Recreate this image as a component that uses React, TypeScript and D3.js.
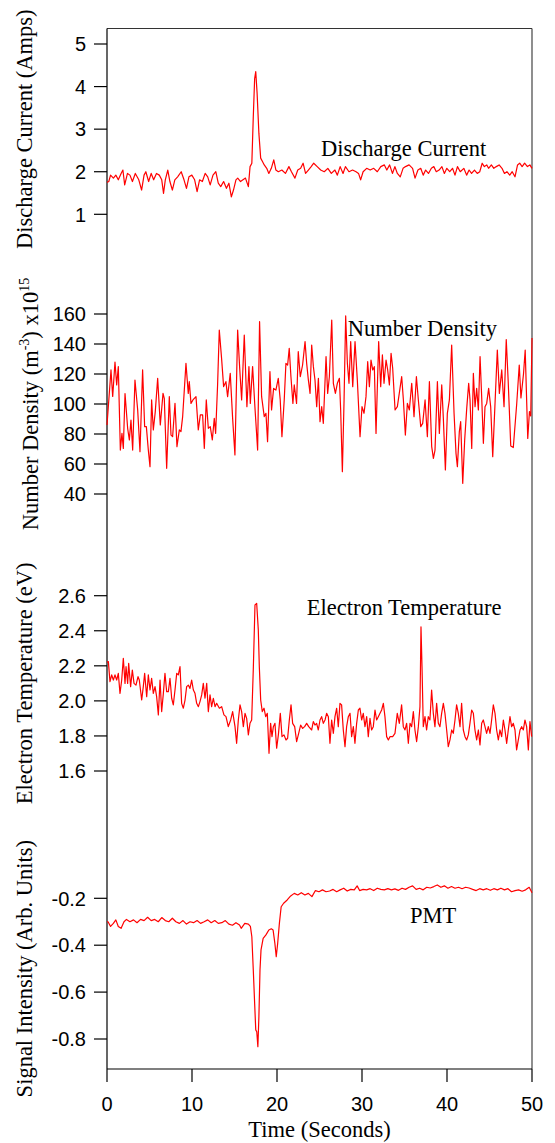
import React from 'react';
import * as d3 from 'd3';

// ---------- tick values ----------
const timeTicks = [0, 10, 20, 30, 40, 50];
const currentTicks = [1, 2, 3, 4, 5];
const densityTicks = [40, 60, 80, 100, 120, 140, 160];
const temperatureTicks = [1.6, 1.8, 2.0, 2.2, 2.4, 2.6];
const pmtTicks = [-0.8, -0.6, -0.4, -0.2];

// ---------- series: [time (s), value] ----------
const dischargeCurrent: [number, number][] = [
  [0, 1.75], [0.21, 1.77], [0.42, 1.92], [0.75, 1.85], [1.04, 1.92], [1.33, 1.81], [1.66, 1.96], [1.87, 2.04],
  [2.08, 1.69], [2.41, 1.96], [2.7, 1.92], [2.99, 1.77], [3.33, 1.96], [3.74, 1.81], [4.07, 1.57], [4.36, 1.92],
  [4.57, 2.0], [4.9, 1.77], [5.2, 1.96], [5.49, 1.81], [5.82, 1.96], [6.15, 1.92], [6.44, 1.81], [6.65, 1.49],
  [6.86, 1.81], [7.15, 2.04], [7.4, 1.77], [7.69, 1.57], [7.98, 1.81], [8.31, 1.88], [8.73, 2.0], [9.06, 1.81],
  [9.35, 1.61], [9.64, 1.88], [9.98, 1.92], [10.31, 1.81], [10.6, 1.53], [10.89, 1.81], [11.22, 1.77], [11.55, 1.96],
  [11.85, 1.88], [12.14, 1.69], [12.47, 1.92], [12.8, 2.0], [13.09, 1.73], [13.38, 1.65], [13.72, 1.77], [14.05, 1.61],
  [14.34, 1.73], [14.63, 1.41], [14.88, 1.57], [15.17, 1.81], [15.38, 1.85], [15.71, 1.77], [16.0, 1.81], [16.29, 1.85],
  [16.63, 1.65], [16.83, 2.12], [17.04, 2.2], [17.21, 3.29], [17.37, 4.19], [17.5, 4.35], [17.66, 3.84], [17.87, 2.9],
  [18.08, 2.32], [18.29, 2.24], [18.5, 2.16], [18.79, 2.08], [19.04, 1.96], [19.33, 2.08], [19.62, 2.28], [19.87, 2.04],
  [20.16, 2.0], [20.57, 2.04], [20.99, 1.96], [21.4, 2.12], [21.7, 2.0], [22.11, 1.85], [22.44, 2.04], [22.78, 2.08],
  [23.07, 2.2], [23.36, 1.96], [23.69, 2.04], [24.02, 2.12], [24.32, 2.2], [24.73, 2.12], [25.14, 2.04], [25.56, 2.0],
  [25.98, 2.08], [26.39, 1.96], [26.81, 2.04], [27.1, 1.92], [27.43, 2.12], [27.77, 1.96], [28.05, 2.12], [28.47, 2.0],
  [28.89, 2.04], [29.3, 2.0], [29.59, 1.96], [29.84, 1.81], [30.13, 2.0], [30.55, 2.08], [30.96, 2.04], [31.38, 2.08],
  [31.8, 2.0], [32.21, 2.12], [32.63, 2.16], [32.92, 2.04], [33.25, 2.16], [33.58, 1.96], [33.87, 2.12], [34.16, 1.96],
  [34.5, 1.88], [34.83, 2.08], [35.12, 2.12], [35.54, 2.16], [35.95, 2.08], [36.24, 1.85], [36.58, 2.04], [36.91, 2.08],
  [37.2, 1.92], [37.49, 2.04], [37.82, 1.96], [38.16, 2.08], [38.45, 2.12], [38.74, 2.0], [39.07, 2.04], [39.4, 2.12],
  [39.69, 1.96], [39.98, 2.08], [40.32, 2.0], [40.65, 2.08], [40.94, 1.92], [41.23, 2.12], [41.56, 2.0], [41.98, 2.08],
  [42.31, 1.92], [42.6, 2.04], [42.89, 1.96], [43.23, 2.04], [43.56, 1.96], [43.85, 2.0], [44.14, 2.2], [44.39, 2.12],
  [44.68, 2.16], [44.89, 2.08], [45.22, 2.16], [45.51, 2.08], [45.8, 2.12], [46.13, 2.16], [46.47, 2.08], [46.76, 1.96],
  [47.05, 2.0], [47.38, 1.92], [47.67, 2.0], [48.0, 1.88], [48.3, 2.16], [48.55, 2.2], [48.84, 2.12], [49.13, 2.2],
  [49.46, 2.12], [49.75, 2.16], [50, 2.08],
];

const numberDensity: [number, number][] = [
  [0.0, 86], [0.47, 122.7], [0.67, 105], [0.94, 128], [1.14, 112.7], [1.33, 125], [1.57, 69.3], [1.76, 80.4],
  [1.92, 70.4], [2.12, 107], [2.43, 83.8], [2.63, 76], [2.82, 89.3], [3.02, 69.3], [3.29, 116], [3.61, 96],
  [3.88, 68.2], [4.19, 122.7], [4.43, 84.9], [4.63, 84.9], [4.86, 69.3], [5.06, 58.2], [5.25, 102.7], [5.45, 82.7],
  [5.68, 94.9], [5.96, 117.1], [6.27, 86], [6.59, 107.1], [6.74, 103.8], [7.02, 57.1], [7.33, 104.9], [7.53, 79.3],
  [7.72, 78.2], [8.0, 100.4], [8.23, 71.6], [8.51, 82.7], [8.7, 81.6], [8.9, 91.6], [9.29, 127.1], [9.56, 107.1],
  [9.68, 114.9], [9.88, 100.4], [10.11, 102.7], [10.47, 104.9], [10.74, 82.7], [10.98, 92.7], [11.25, 92.7], [11.45, 70.4],
  [11.68, 102.7], [11.92, 83.8], [12.15, 84.9], [12.39, 76], [12.62, 90.4], [12.78, 80.4], [13.01, 112.7], [13.21, 149.3],
  [13.48, 130.4], [13.72, 111.6], [13.99, 114.9], [14.19, 104.9], [14.5, 120.4], [14.78, 90.4], [15.05, 66], [15.37, 149.3],
  [15.6, 124.9], [15.84, 102.7], [16.15, 146], [16.46, 98.2], [16.7, 124.9], [16.86, 100.4], [17.13, 124.9], [17.4, 98.2],
  [17.72, 69.3], [17.95, 154.9], [18.19, 104.9], [18.5, 91.6], [18.7, 93.8], [18.89, 74.9], [19.17, 121.6], [19.36, 96],
  [19.6, 110.4], [19.87, 109.3], [20.15, 117.1], [20.38, 102.7], [20.58, 78.2], [20.85, 102.7], [21.05, 127.1], [21.25, 126],
  [21.44, 137.1], [21.64, 118.2], [21.87, 100.4], [22.03, 112.7], [22.3, 100.4], [22.5, 134.9], [22.74, 118.2], [23.01, 126],
  [23.3, 141.6], [23.49, 127.1], [23.69, 116], [23.89, 107.1], [24.08, 139.3], [24.28, 124.9], [24.47, 116], [24.67, 98.2],
  [24.87, 117.1], [25.06, 88.2], [25.26, 98.2], [25.45, 87.1], [25.77, 131.6], [25.96, 107.1], [26.16, 118.2], [26.44, 156],
  [26.63, 113.8], [26.87, 107.1], [27.1, 113.8], [27.34, 117.1], [27.49, 96], [27.69, 54.9], [27.89, 102.7], [28.08, 158.7],
  [28.28, 127.1], [28.47, 113.8], [28.67, 141.6], [28.91, 111.6], [29.18, 141.6], [29.45, 116], [29.77, 78.2], [30.0, 98.2],
  [30.24, 93.8], [30.47, 104.9], [30.67, 128.2], [30.87, 111.6], [31.06, 129.3], [31.26, 122.7], [31.45, 124.9], [31.65, 80.4],
  [31.96, 141.6], [32.2, 111.6], [32.4, 132.7], [32.59, 113.8], [32.83, 129.3], [33.02, 122.7], [33.22, 112.7], [33.42, 133.8],
  [33.61, 123.8], [33.89, 96], [34.16, 98.2], [34.47, 110.4], [34.67, 118.2], [34.87, 102.7], [35.1, 79.3], [35.34, 100.4],
  [35.57, 96], [35.85, 113.8], [36.12, 91.6], [36.4, 118.2], [36.63, 102.7], [36.91, 84.9], [37.14, 87.1], [37.42, 102.7],
  [37.69, 78.2], [37.93, 114.9], [38.2, 71.6], [38.4, 63.8], [38.59, 69.3], [38.87, 114.9], [39.1, 80.4], [39.38, 112.7],
  [39.57, 90.4], [39.81, 56], [40.04, 93.8], [40.28, 102.7], [40.55, 139.3], [40.83, 93.8], [41.06, 67.1], [41.22, 58.2],
  [41.45, 81.6], [41.61, 88.2], [41.85, 47.1], [42.08, 76], [42.32, 97.1], [42.55, 113.8], [42.71, 102.7], [42.91, 70.4],
  [43.1, 120.4], [43.3, 98.2], [43.49, 110.4], [43.69, 96], [43.89, 131.6], [44.08, 104.9], [44.28, 73.8], [44.47, 98.2],
  [44.67, 100.4], [44.9, 110.4], [45.14, 98.2], [45.38, 64.9], [45.65, 100.4], [45.92, 136], [46.16, 107.1], [46.44, 122.7],
  [46.71, 98.2], [46.97, 143], [47.2, 115], [47.5, 72], [47.8, 71], [48.2, 100], [48.5, 126], [48.7, 104],
  [49.0, 120], [49.2, 136], [49.5, 77], [49.7, 95], [49.85, 92], [50, 144],
];

const electronTemperature: [number, number][] = [
  [0.0, 2.22], [0.16, 2.224], [0.35, 2.11], [0.55, 2.148], [0.75, 2.119], [0.94, 2.148], [1.14, 2.119], [1.33, 2.157],
  [1.53, 2.043], [1.73, 2.119], [1.92, 2.243], [2.12, 2.1], [2.24, 2.195], [2.43, 2.1], [2.55, 2.214], [2.78, 2.081],
  [2.98, 2.176], [3.18, 2.1], [3.41, 2.09], [3.65, 2.138], [3.8, 2.119], [4.08, 2.005], [4.27, 2.081], [4.43, 2.157],
  [4.67, 2.024], [4.86, 2.148], [5.06, 2.062], [5.25, 2.129], [5.45, 2.043], [5.65, 2.081], [5.84, 2.024], [6.04, 1.92],
  [6.24, 2.119], [6.43, 1.939], [6.63, 2.043], [6.82, 2.157], [7.02, 2.053], [7.22, 2.053], [7.41, 2.129], [7.61, 2.015],
  [7.8, 1.977], [8.0, 2.062], [8.2, 2.157], [8.39, 2.148], [8.59, 2.195], [8.78, 1.986], [8.98, 1.958], [9.18, 2.005],
  [9.37, 2.081], [9.57, 2.09], [9.76, 2.071], [9.96, 2.119], [10.16, 2.062], [10.35, 2.043], [10.55, 1.986], [10.75, 1.967],
  [10.94, 1.996], [11.14, 2.034], [11.33, 2.1], [11.53, 2.015], [11.73, 2.1], [11.92, 1.939], [12.12, 2.034], [12.31, 1.967],
  [12.51, 2.015], [12.71, 1.967], [12.9, 1.986], [13.22, 1.958], [13.49, 1.967], [13.76, 1.92], [14.0, 1.91], [14.27, 1.853],
  [14.55, 1.891], [14.78, 1.939], [15.06, 1.853], [15.25, 1.758], [15.45, 1.891], [15.65, 1.977], [15.84, 1.939], [16.04, 1.853],
  [16.24, 1.929], [16.43, 1.9], [16.63, 1.806], [16.82, 1.872], [17.02, 1.891], [17.22, 2.195], [17.41, 2.547], [17.61, 2.556],
  [17.8, 2.405], [17.92, 2.195], [18.08, 2.005], [18.27, 1.939], [18.47, 1.958], [18.67, 1.91], [18.86, 1.929], [19.06, 1.701],
  [19.25, 1.872], [19.41, 1.796], [19.57, 1.853], [19.76, 1.872], [19.96, 1.73], [20.16, 1.806], [20.39, 1.929], [20.59, 1.796],
  [20.82, 1.806], [21.06, 1.777], [21.25, 1.787], [21.45, 1.891], [21.65, 1.977], [21.84, 1.872], [22.08, 1.853], [22.31, 1.768],
  [22.55, 1.815], [22.78, 1.862], [23.02, 1.843], [23.25, 1.853], [23.49, 1.872], [23.73, 1.853], [24.08, 1.834], [24.27, 1.882],
  [24.47, 1.862], [24.66, 1.872], [24.86, 1.834], [25.06, 1.891], [25.25, 1.91], [25.45, 1.872], [25.65, 1.891], [25.84, 1.929],
  [26.04, 1.91], [26.23, 1.758], [26.43, 1.891], [26.63, 1.815], [26.82, 1.91], [27.02, 1.958], [27.21, 1.853], [27.41, 1.986],
  [27.6, 1.977], [27.8, 1.834], [28.0, 1.739], [28.19, 1.853], [28.39, 1.91], [28.59, 1.929], [28.78, 1.796], [28.98, 1.853],
  [29.17, 1.758], [29.37, 1.872], [29.57, 1.948], [29.76, 1.958], [29.96, 1.891], [30.15, 1.929], [30.35, 1.853], [30.55, 1.91],
  [30.74, 1.796], [30.94, 1.9], [31.13, 1.834], [31.33, 1.853], [31.53, 1.948], [31.72, 1.891], [31.92, 1.91], [32.12, 1.929],
  [32.31, 1.948], [32.51, 1.986], [32.7, 1.91], [32.9, 1.796], [33.1, 1.777], [33.29, 1.796], [33.61, 1.796], [33.88, 1.815],
  [34.15, 1.929], [34.39, 1.872], [34.66, 1.977], [34.86, 1.853], [35.06, 1.834], [35.25, 1.872], [35.45, 1.758], [35.65, 1.872],
  [35.84, 1.853], [36.04, 1.939], [36.23, 1.834], [36.43, 1.768], [36.63, 1.853], [36.82, 1.967], [36.94, 2.423], [37.06, 2.195],
  [37.21, 1.853], [37.41, 1.91], [37.6, 1.834], [37.8, 1.91], [37.99, 1.891], [38.19, 2.062], [38.39, 1.929], [38.58, 1.853],
  [38.78, 1.986], [38.98, 1.872], [39.17, 1.853], [39.37, 1.929], [39.57, 1.986], [39.76, 1.929], [39.96, 1.834], [40.15, 1.739],
  [40.35, 1.777], [40.55, 1.834], [40.74, 1.815], [40.94, 1.891], [41.13, 1.977], [41.33, 1.929], [41.53, 1.853], [41.72, 1.986],
  [41.92, 1.834], [42.12, 1.796], [42.31, 1.777], [42.51, 1.806], [42.7, 1.872], [42.9, 1.948], [43.1, 1.929], [43.29, 1.834],
  [43.49, 1.777], [43.69, 1.834], [43.88, 1.749], [44.08, 1.872], [44.27, 1.891], [44.47, 1.853], [44.66, 1.815], [44.86, 1.853],
  [45.06, 1.815], [45.25, 1.891], [45.45, 1.977], [45.65, 1.929], [45.84, 1.834], [46.04, 1.777], [46.23, 1.834], [46.43, 1.796],
  [46.63, 1.891], [46.82, 1.834], [47.02, 1.758], [47.21, 1.834], [47.41, 1.91], [47.6, 1.853], [47.8, 1.872], [48.0, 1.834],
  [48.19, 1.72], [48.39, 1.777], [48.59, 1.834], [48.78, 1.853], [48.98, 1.834], [49.17, 1.891], [49.37, 1.853], [49.57, 1.72],
  [49.76, 1.882], [49.96, 1.796],
];

const pmtSignal: [number, number][] = [
  [0.0, -0.3], [0.12, -0.3], [0.42, -0.32], [0.75, -0.307], [1.04, -0.292], [1.33, -0.32], [1.66, -0.328], [2.0, -0.3],
  [2.29, -0.29], [2.7, -0.3], [3.12, -0.292], [3.53, -0.304], [3.95, -0.29], [4.36, -0.295], [4.78, -0.281], [5.2, -0.295],
  [5.61, -0.29], [6.03, -0.3], [6.44, -0.282], [6.86, -0.295], [7.27, -0.3], [7.69, -0.285], [8.1, -0.3], [8.52, -0.307],
  [8.94, -0.295], [9.35, -0.31], [9.77, -0.3], [10.18, -0.304], [10.6, -0.295], [11.01, -0.307], [11.43, -0.3], [11.85, -0.292],
  [12.26, -0.304], [12.68, -0.295], [13.09, -0.307], [13.51, -0.304], [13.92, -0.295], [14.34, -0.31], [14.76, -0.315], [15.17, -0.304],
  [15.59, -0.314], [15.79, -0.328], [16.21, -0.307], [16.63, -0.31], [16.87, -0.32], [17.04, -0.364], [17.21, -0.506], [17.37, -0.648],
  [17.5, -0.761], [17.62, -0.769], [17.75, -0.833], [17.87, -0.705], [18.0, -0.506], [18.12, -0.42], [18.37, -0.371], [18.7, -0.356],
  [19.04, -0.335], [19.33, -0.33], [19.54, -0.335], [19.75, -0.392], [19.91, -0.449], [20.08, -0.392], [20.28, -0.307], [20.49, -0.236],
  [20.78, -0.221], [21.2, -0.207], [21.61, -0.19], [22.03, -0.179], [22.44, -0.186], [22.86, -0.176], [23.28, -0.186], [23.69, -0.179],
  [24.11, -0.193], [24.52, -0.167], [24.94, -0.172], [25.35, -0.164], [25.77, -0.172], [26.19, -0.169], [26.6, -0.162], [27.02, -0.172],
  [27.43, -0.164], [27.85, -0.157], [28.26, -0.169], [28.68, -0.162], [29.09, -0.164], [29.43, -0.147], [29.72, -0.167], [30.13, -0.162],
  [30.55, -0.164], [30.96, -0.159], [31.38, -0.167], [31.8, -0.157], [32.21, -0.162], [32.63, -0.164], [33.04, -0.159], [33.46, -0.164],
  [33.87, -0.16], [34.29, -0.166], [34.71, -0.157], [35.12, -0.162], [35.54, -0.153], [35.95, -0.147], [36.37, -0.162], [36.78, -0.157],
  [37.2, -0.164], [37.62, -0.153], [38.03, -0.156], [38.45, -0.15], [38.86, -0.143], [39.28, -0.153], [39.69, -0.147], [40.11, -0.157],
  [40.53, -0.15], [40.94, -0.157], [41.36, -0.153], [41.77, -0.159], [42.19, -0.153], [42.6, -0.156], [43.02, -0.162], [43.43, -0.167],
  [43.85, -0.159], [44.26, -0.164], [44.68, -0.159], [45.1, -0.166], [45.51, -0.159], [45.93, -0.164], [46.34, -0.157], [46.76, -0.164],
  [47.17, -0.159], [47.59, -0.172], [48.0, -0.167], [48.42, -0.164], [48.84, -0.17], [49.25, -0.164], [49.67, -0.153], [50, -0.176],
];

// ---------- layout ----------
const W = 555;
const H = 1143;
const LEFT = 107;
const RIGHT = 532;
const TOP = 28.5;
const BOTTOM = 1069;

const SANS = "'Liberation Sans', Arial, Helvetica, sans-serif";
const SERIF = "'Liberation Serif', 'Times New Roman', Times, serif";

const x = d3.scaleLinear().domain([0, 50]).range([LEFT, RIGHT]);

type Panel = {
  data: [number, number][];
  ticks: number[];
  y: d3.ScaleLinear<number, number>;
  fmt: (v: number) => string;
  title: React.ReactNode;
  titleX: number;
  label: string;
  labelX: number;
  labelY: number;
};

const panels: Panel[] = [
  {
    data: dischargeCurrent,
    ticks: currentTicks,
    y: d3.scaleLinear().domain([1, 5]).range([214.3, 44]),
    fmt: (v) => String(v),
    title: 'Discharge Current (Amps)',
    titleX: 32,
    label: 'Discharge Current',
    labelX: 321,
    labelY: 155.7,
  },
  {
    data: numberDensity,
    ticks: densityTicks,
    y: d3.scaleLinear().domain([40, 160]).range([494, 314]),
    fmt: (v) => String(v),
    title: (
      <>
        Number Density (m
        <tspan fontSize={14} dy={-9}>-3</tspan>
        <tspan dy={9}>) x10</tspan>
        <tspan fontSize={14} dy={-9}>15</tspan>
      </>
    ),
    titleX: 38,
    label: 'Number Density',
    labelX: 347.7,
    labelY: 335.7,
  },
  {
    data: electronTemperature,
    ticks: temperatureTicks,
    y: d3.scaleLinear().domain([1.6, 2.6]).range([771, 595.7]),
    fmt: (v) => v.toFixed(1),
    title: 'Electron Temperature (eV)',
    titleX: 32,
    label: 'Electron Temperature',
    labelX: 306.7,
    labelY: 615,
  },
  {
    data: pmtSignal,
    ticks: pmtTicks,
    y: d3.scaleLinear().domain([-0.8, -0.2]).range([1039, 898.3]),
    fmt: (v) => v.toFixed(1),
    title: 'Signal Intensity (Arb. Units)',
    titleX: 32,
    label: 'PMT',
    labelX: 410,
    labelY: 922.7,
  },
];

export default function App() {
  return (
    <svg
      width={W}
      height={H}
      style={{ position: 'absolute', left: 0, top: 0, background: '#fff' }}
    >
      <rect x={0} y={0} width={W} height={H} fill="#fff" />
      {/* frame */}
      <line x1={LEFT} x2={RIGHT} y1={TOP} y2={TOP} stroke="#333" strokeWidth={1.2} />
      <line x1={RIGHT} x2={RIGHT} y1={TOP} y2={BOTTOM} stroke="#444" strokeWidth={1.2} />
      <line x1={LEFT} x2={LEFT} y1={TOP} y2={BOTTOM} stroke="#000" strokeWidth={1.2} />
      <line x1={LEFT} x2={RIGHT} y1={BOTTOM} y2={BOTTOM} stroke="#000" strokeWidth={1.2} />

      {/* x axis ticks */}
      {timeTicks.map((t) => (
        <g key={t}>
          <line x1={x(t)} x2={x(t)} y1={BOTTOM} y2={BOTTOM + 13} stroke="#000" strokeWidth={1.2} />
          <text x={x(t)} y={1110.5} textAnchor="middle" fontFamily={SANS} fontSize={20} fill="#000">
            {t}
          </text>
        </g>
      ))}
      <text x={(LEFT + RIGHT) / 2} y={1137} textAnchor="middle" fontFamily={SERIF} fontSize={22.5} fill="#000">
        Time (Seconds)
      </text>

      {panels.map((p, i) => {
        const line = d3
          .line<[number, number]>()
          .x((d) => x(d[0]))
          .y((d) => p.y(d[1]));
        const [lo, hi] = p.y.range();
        const cy = (lo + hi) / 2;
        return (
          <g key={i}>
            {p.ticks.map((v) => (
              <g key={v}>
                <line x1={LEFT - 13} x2={LEFT} y1={p.y(v)} y2={p.y(v)} stroke="#000" strokeWidth={1.2} />
                <text
                  x={86}
                  y={p.y(v)}
                  dy="0.36em"
                  textAnchor="end"
                  fontFamily={SANS}
                  fontSize={20}
                  fill="#000"
                >
                  {p.fmt(v)}
                </text>
              </g>
            ))}
            <text
              transform={`translate(${p.titleX},${cy}) rotate(-90)`}
              textAnchor="middle"
              fontFamily={SERIF}
              fontSize={22.5}
              fill="#000"
            >
              {p.title}
            </text>
            <path d={line(p.data) || ''} fill="none" stroke="#ff0000" strokeWidth={1.2} strokeLinejoin="round" />
            <text x={p.labelX} y={p.labelY} fontFamily={SERIF} fontSize={22.5} fill="#000">
              {p.label}
            </text>
          </g>
        );
      })}
    </svg>
  );
}
